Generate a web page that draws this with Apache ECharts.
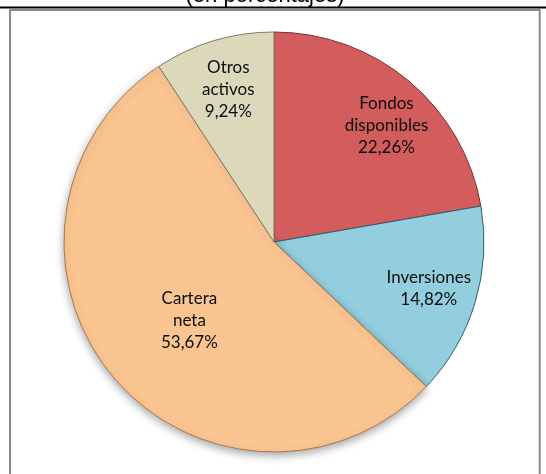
<!DOCTYPE html>
<html>
<head>
<meta charset="utf-8">
<script src="https://cdn.jsdelivr.net/npm/echarts@6/dist/echarts.min.js"></script>
<style>
html,body{margin:0;padding:0;background:#fff;}
#chart{width:546px;height:474px;}
</style>
</head>
<body>
<div id="chart"></div>
<script>
// ---- data ----
const categories = ['Fondos\ndisponibles', 'Inversiones', 'Cartera\nneta', 'Otros\nactivos'];
const values = [22.26, 14.82, 53.67, 9.24];
const valueLabels = ['22,26%', '14,82%', '53,67%', '9,24%'];
const subtitle = '(en porcentajes)';

// ---- style / layout ----
const colors = ['#D35C5C', '#93CEDE', '#FBC592', '#DCD8BC'];
const borders = ['#7a2e2e', '#2f5f70', '#a87a4e', '#7d7a62'];
const CX = 274, CY = 242, R = 210;
const labelRadius = [0.77, 0.77, 0.55, 0.76];
const labelAngleShift = [4, 0, -3, 0];

const total = values.reduce((a, b) => a + b, 0);
const mids = [];
let acc = 0;
values.forEach(v => { mids.push((acc + v / 2) / total * 360); acc += v; });

const chart = echarts.init(document.getElementById('chart'), null, {renderer: 'canvas'});
chart.setOption({
  animation: false,
  graphic: [
    {type: 'text', x: 265, y: 7, z: 1,
     style: {text: subtitle, font: '22px "Liberation Sans", Arial, sans-serif', fill: '#000', align: 'center', verticalAlign: 'bottom'}},
    {type: 'rect', z: 2, shape: {x: 0, y: 6.5, width: 546, height: 2}, style: {fill: '#000'}},
    {type: 'rect', z: 3, shape: {x: 10, y: 10, width: 529.7, height: 480}, style: {fill: '#fff', stroke: '#8a8a8a', lineWidth: 2}}
  ],
  series: [{
    type: 'pie',
    z: 5,
    center: [CX, CY],
    radius: [0, R],
    startAngle: 90,
    clockwise: true,
    avoidLabelOverlap: false,
    label: {
      show: true,
      position: 'inside',
      formatter: p => categories[p.dataIndex] + '\n' + valueLabels[p.dataIndex],
      fontFamily: 'Lato, "Open Sans", sans-serif',
      fontSize: 17,
      lineHeight: 22,
      color: '#0d0d0d',
      align: 'center'
    },
    labelLayout: function (p) {
      const i = p.dataIndex;
      const a = (mids[i] + labelAngleShift[i]) * Math.PI / 180;
      const d = labelRadius[i] * R;
      return {x: CX + d * Math.sin(a), y: CY - d * Math.cos(a), align: 'center', verticalAlign: 'middle'};
    },
    labelLine: {show: false},
    data: values.map((v, i) => ({
      value: v,
      name: categories[i],
      itemStyle: Object.assign({color: colors[i], borderColor: borders[i], borderWidth: 1},
        i === 2 ? {shadowBlur: 8, shadowOffsetY: 3, shadowColor: 'rgba(0,0,0,0.35)'} : {})
    }))
  }]
});
</script>
</body>
</html>
